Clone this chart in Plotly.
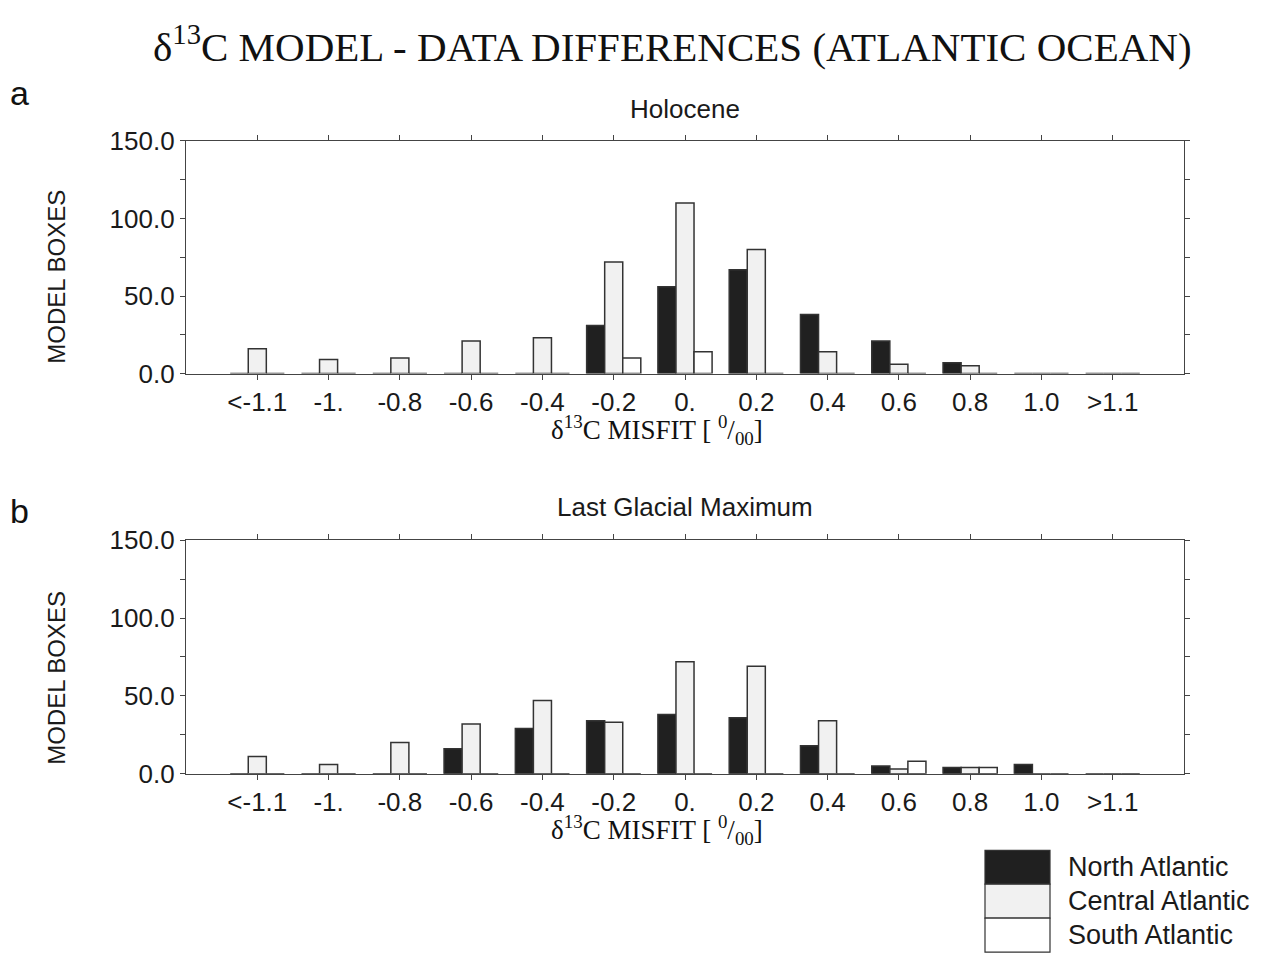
import plotly.graph_objects as go

categories = ["<-1.1", "-1.", "-0.8", "-0.6", "-0.4", "-0.2", "0.", "0.2", "0.4", "0.6", "0.8", "1.0", ">1.1"]
series_names = ["North Atlantic", "Central Atlantic", "South Atlantic"]
series_colors = ["#202020", "#f1f1f1", "#ffffff"]

holo_north = [0, 0, 0, 0, 0, 31, 56, 67, 38, 21, 7, 0, 0]
holo_central = [16, 9, 10, 21, 23, 72, 110, 80, 14, 6, 5, 0, 0]
holo_south = [0, 0, 0, 0, 0, 10, 14, 0, 0, 0, 0, 0, 0]

lgm_north = [0, 0, 0, 16, 29, 34, 38, 36, 18, 5, 4, 6, 0]
lgm_central = [11, 6, 20, 32, 47, 33, 72, 69, 34, 3, 4, 0, 0]
lgm_south = [0, 0, 0, 0, 0, 0, 0, 0, 0, 8, 4, 0, 0]

ytick_vals = [0, 25, 50, 75, 100, 125, 150]
ytick_text = ["0.0", "", "50.0", "", "100.0", "", "150.0"]

W, H = 1268, 968
xpos = list(range(len(categories)))

fig = go.Figure()

panels = [
    ("x", "y", [holo_north, holo_central, holo_south]),
    ("x2", "y2", [lgm_north, lgm_central, lgm_south]),
]
for xa, ya, data in panels:
    for name, color, vals in zip(series_names, series_colors, data):
        fig.add_trace(go.Bar(
            x=xpos, y=vals, name=name, xaxis=xa, yaxis=ya,
            marker=dict(color=color, line=dict(color="#333333", width=1.5)),
            showlegend=False, offsetgroup=name,
        ))

def px_x(p):
    return p / W

def px_y(p):
    return 1 - p / H

serif = "Liberation Serif, Times New Roman, serif"
sans = "Liberation Sans, Arial, sans-serif"

axis_common = dict(
    showline=True, linecolor="#444444", linewidth=1.2, mirror="ticks",
    ticks="outside", ticklen=5, tickcolor="#444444", showgrid=False, zeroline=False,
    tickfont=dict(family=sans, size=26, color="#1a1a1a"),
)

xdom = [px_x(186), px_x(1184)]
fig.update_layout(
    width=W, height=H, margin=dict(l=0, r=0, t=0, b=0),
    paper_bgcolor="white", plot_bgcolor="white",
    barmode="group", bargap=0.24, bargroupgap=0,
    xaxis=dict(domain=xdom, anchor="y", range=[-1, len(categories)],
               tickvals=xpos, ticktext=categories, **axis_common),
    yaxis=dict(domain=[px_y(370), px_y(130)], anchor="x", range=[0, 150],
               tickvals=ytick_vals, ticktext=ytick_text, **axis_common),
    xaxis2=dict(domain=xdom, anchor="y2", range=[-1, len(categories)],
                tickvals=xpos, ticktext=categories, **axis_common),
    yaxis2=dict(domain=[px_y(783), px_y(542)], anchor="x2", range=[0, 150],
                tickvals=ytick_vals, ticktext=ytick_text, **axis_common),
)

ann = []
ann.append(dict(text="δ<sup>13</sup>C MODEL - DATA DIFFERENCES (ATLANTIC OCEAN)",
                x=px_x(672), y=px_y(30), xref="paper", yref="paper", showarrow=False,
                xanchor="center", yanchor="middle", font=dict(family=serif, size=41, color="#111")))
for label, yy in [("a", 80), ("b", 512)]:
    ann.append(dict(text=label, x=px_x(8), y=px_y(yy), xref="paper", yref="paper", showarrow=False,
                    xanchor="left", yanchor="middle", font=dict(family=sans, size=34, color="#111")))
for label, yy in [("Holocene", 97), ("Last Glacial Maximum", 508)]:
    ann.append(dict(text=label, x=px_x(685), y=px_y(yy), xref="paper", yref="paper", showarrow=False,
                    xanchor="center", yanchor="middle", font=dict(family=sans, size=26, color="#1a1a1a")))
for yy in [270, 684]:
    ann.append(dict(text="MODEL BOXES", x=px_x(57), y=px_y(yy), xref="paper", yref="paper", showarrow=False,
                    textangle=-90, xanchor="center", yanchor="middle",
                    font=dict(family=sans, size=24, color="#1a1a1a")))
for yy in [428, 841]:
    ann.append(dict(text="δ<sup>13</sup>C MISFIT [ <sup>0</sup>/<sub>00</sub>]",
                    x=px_x(657), y=px_y(yy), xref="paper", yref="paper", showarrow=False,
                    xanchor="center", yanchor="middle", font=dict(family=serif, size=27, color="#111")))

# legend
shapes = []
box_top = 862
box_h = 35
for i, (name, color) in enumerate(zip(series_names, series_colors)):
    y0 = box_top + i * box_h
    shapes.append(dict(type="rect", xref="paper", yref="paper",
                       x0=px_x(985), x1=px_x(1050), y0=px_y(y0 + box_h), y1=px_y(y0),
                       fillcolor=color, line=dict(color="#333333", width=1.2)))
    ann.append(dict(text=name, x=px_x(1066), y=px_y(y0 + box_h / 2), xref="paper", yref="paper",
                    showarrow=False, xanchor="left", yanchor="middle",
                    font=dict(family=sans, size=27, color="#1a1a1a")))

fig.update_layout(annotations=ann, shapes=shapes)
fig.write_html("out.html")
